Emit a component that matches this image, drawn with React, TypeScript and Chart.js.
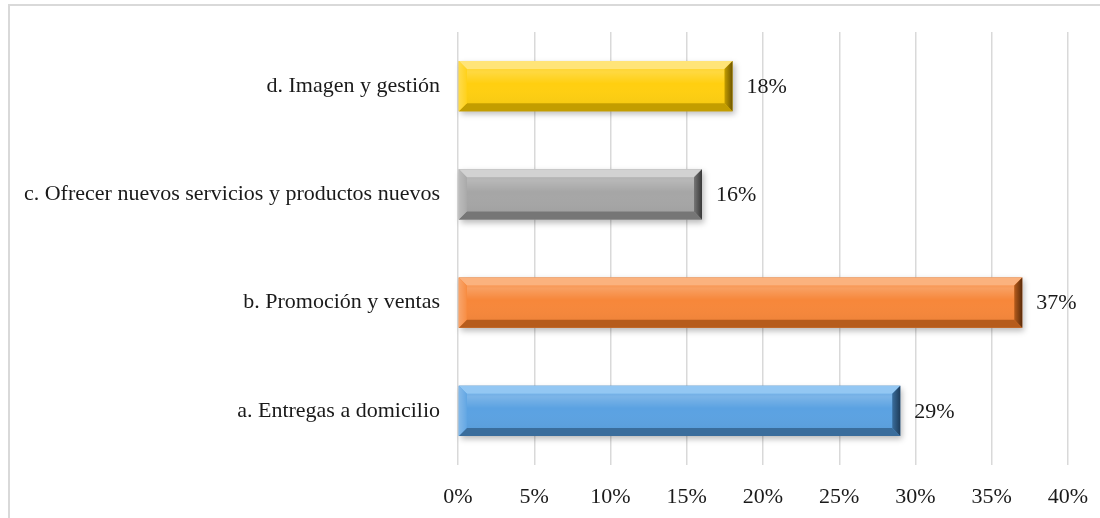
import React, { useEffect, useRef } from "react";
import { Chart, registerables } from "chart.js";

Chart.register(...registerables);

// Categories listed bottom to top
const categories = [
  "a. Entregas a domicilio",
  "b. Promoción y ventas",
  "c. Ofrecer nuevos servicios y productos nuevos",
  "d. Imagen y gestión",
];
const shares = [29, 37, 16, 18];
const tickValues = [0, 5, 10, 15, 20, 25, 30, 35, 40];

// Face colours and bevel shades per bar
const faceColors = ["#5BA2E2", "#F7873A", "#A6A6A6", "#FFCF10"];
const lightShades = ["#93C7F3", "#FBB27E", "#D2D2D2", "#FFE478"];
const darkShades = ["#3A6D9C", "#B65C1C", "#767676", "#C39D00"];
const edgeShades = ["#1E3C5A", "#5A2B0A", "#383838", "#6E5600"];

const FONT = "'Liberation Serif', 'Times New Roman', serif";

const bevelPlugin = {
  id: "bevelBars",
  beforeDatasetsDraw(chart: any) {
    const ctx = chart.ctx;
    const meta = chart.getDatasetMeta(0);
    ctx.save();
    meta.data.forEach((bar: any) => {
      const left = Math.min(bar.base, bar.x);
      const right = Math.max(bar.base, bar.x);
      const top = bar.y - bar.height / 2;
      ctx.shadowColor = "rgba(0,0,0,0.45)";
      ctx.shadowBlur = 6;
      ctx.shadowOffsetX = 2;
      ctx.shadowOffsetY = 3;
      ctx.fillStyle = "rgba(120,120,120,0.6)";
      ctx.fillRect(left, top, right - left, bar.height);
    });
    ctx.restore();
  },
  afterDatasetsDraw(chart: any) {
    const ctx = chart.ctx;
    const meta = chart.getDatasetMeta(0);
    ctx.save();
    meta.data.forEach((bar: any, i: number) => {
      const l = Math.min(bar.base, bar.x);
      const r = Math.max(bar.base, bar.x);
      const t = bar.y - bar.height / 2;
      const b = bar.y + bar.height / 2;
      const e = 8;
      const poly = (pts: number[][], fill: any) => {
        ctx.beginPath();
        ctx.moveTo(pts[0][0], pts[0][1]);
        for (let k = 1; k < pts.length; k++) ctx.lineTo(pts[k][0], pts[k][1]);
        ctx.closePath();
        ctx.fillStyle = fill;
        ctx.fill();
      };
      // face highlight band
      const g = ctx.createLinearGradient(0, t, 0, b);
      g.addColorStop(0, "rgba(255,255,255,0.0)");
      g.addColorStop(0.22, "rgba(255,255,255,0.2)");
      g.addColorStop(0.45, "rgba(255,255,255,0.0)");
      g.addColorStop(1, "rgba(0,0,0,0.06)");
      ctx.fillStyle = g;
      ctx.fillRect(l + e, t + e, r - l - 2 * e, b - t - 2 * e);
      // top bevel
      poly([[l, t], [r, t], [r - e, t + e], [l + e, t + e]], lightShades[i]);
      // bottom bevel
      poly([[l, b], [r, b], [r - e, b - e], [l + e, b - e]], darkShades[i]);
      // left bevel
      poly([[l, t], [l + e, t + e], [l + e, b - e], [l, b]], faceColors[i]);
      const lg = ctx.createLinearGradient(l, 0, l + e, 0);
      lg.addColorStop(0, "rgba(255,255,255,0.25)");
      lg.addColorStop(1, "rgba(255,255,255,0.05)");
      poly([[l, t], [l + e, t + e], [l + e, b - e], [l, b]], lg);
      // right bevel
      const rg = ctx.createLinearGradient(r - e, 0, r, 0);
      rg.addColorStop(0, darkShades[i]);
      rg.addColorStop(1, edgeShades[i]);
      poly([[r, t], [r - e, t + e], [r - e, b - e], [r, b]], rg);
      // value label
      ctx.fillStyle = "#1A1A1A";
      ctx.font = `22px ${FONT}`;
      ctx.textAlign = "left";
      ctx.textBaseline = "middle";
      ctx.fillText(`${shares[i]}%`, r + 14, bar.y + 1);
    });
    ctx.restore();
  },
};

export default function App() {
  const canvasRef = useRef<HTMLCanvasElement>(null);

  useEffect(() => {
    if (!canvasRef.current) return;
    const chart = new Chart(canvasRef.current, {
      type: "bar",
      data: {
        labels: categories,
        datasets: [
          {
            data: shares,
            backgroundColor: faceColors,
            borderWidth: 0,
            categoryPercentage: 1,
            barPercentage: 0.465,
          },
        ],
      },
      options: {
        indexAxis: "y",
        animation: false,
        responsive: true,
        maintainAspectRatio: false,
        layout: { padding: { top: 32, right: 32, left: 0, bottom: 0 } },
        plugins: {
          legend: { display: false },
          tooltip: { enabled: false },
        },
        scales: {
          x: {
            min: 0,
            max: 40,
            afterBuildTicks: (scale: any) => {
              scale.ticks = tickValues.map((v) => ({ value: v }));
            },
            afterFit: (scale: any) => {
              scale.height = 53;
              scale.paddingRight = 0;
              scale.paddingLeft = 0;
            },
            grid: {
              color: "#D9D9D9",
              lineWidth: 1.5,
              drawTicks: false,
            },
            border: { display: false },
            ticks: {
              padding: 19,
              color: "#1A1A1A",
              font: { family: FONT, size: 22 },
              callback: (v: any) => `${v}%`,
            },
          },
          y: {
            reverse: true,
            afterFit: (scale: any) => {
              scale.width = 458;
            },
            grid: { display: false, drawTicks: false },
            border: { display: false },
            ticks: {
              padding: 18,
              color: "#1A1A1A",
              font: { family: FONT, size: 22 },
            },
          },
        },
      },
      plugins: [bevelPlugin],
    } as any);
    return () => chart.destroy();
  }, []);

  return (
    <div
      style={{
        position: "absolute",
        left: 0,
        top: 0,
        width: 1100,
        height: 518,
        overflow: "hidden",
        background: "#fff",
      }}
    >
      <div
        style={{
          position: "absolute",
          left: 8,
          top: 4,
          width: 1100,
          height: 520,
          borderTop: "2px solid #D9D9D9",
          borderLeft: "2px solid #D9D9D9",
        }}
      />
      <div style={{ position: "absolute", left: 0, top: 0, width: 1100, height: 518 }}>
        <canvas ref={canvasRef} />
      </div>
    </div>
  );
}
